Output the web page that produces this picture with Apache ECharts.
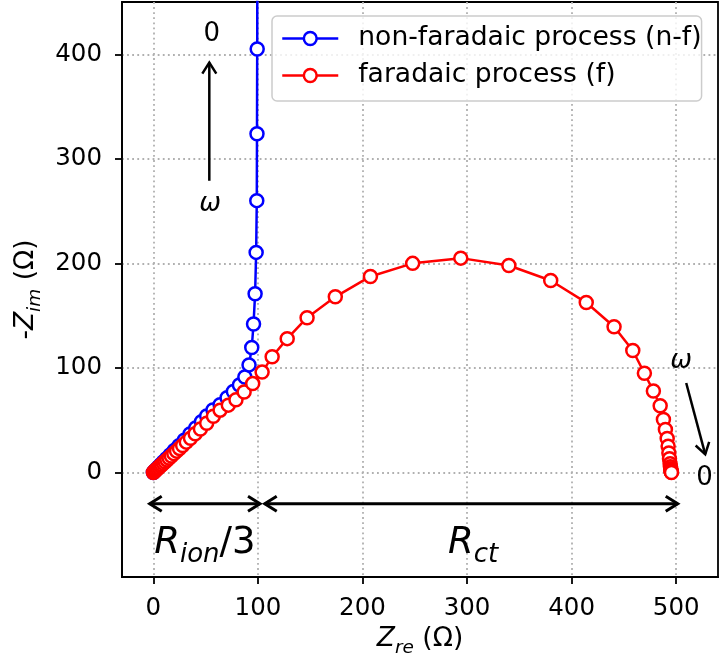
<!DOCTYPE html>
<html><head><meta charset="utf-8">
<script src="https://cdn.jsdelivr.net/npm/echarts@6/dist/echarts.min.js"></script>
<style>html,body{margin:0;padding:0;background:#fff}#c{width:720px;height:666px}</style>
</head><body><div id="c"></div>
<script>
// ---- tick values ----
const xTicks = [0, 100, 200, 300, 400, 500];
const yTicks = [0, 100, 200, 300, 400];

// ---- non-faradaic process (n-f) ----
const nfX = [0, 1.5, 3, 4.8, 7, 9.5, 12.5, 16, 20, 24.5, 29.5, 35, 40.5, 46, 51, 57, 63.8, 70.5, 76.5, 82.3, 87.5, 91.5, 94.1, 95.8, 97.3, 98.3, 98.9, 99.1, 99.3, 99.5];
const nfY = [0, 1.6, 3.2, 5.1, 7.4, 10, 13.1, 16.7, 20.9, 25.6, 30.9, 36.7, 42.6, 48.5, 54, 59.8, 64.8, 71.5, 77.5, 83.7, 91.3, 102.9, 119.5, 142, 171, 210.5, 260, 324, 405, 510];

// ---- faradaic process (f) ----
const fX = [0, 1, 2, 3, 4.1, 5.3, 6.6, 8, 9.5, 11.2, 13, 15, 17.2, 19.6, 22.2, 25, 28, 31.5, 35.5, 40, 45, 51, 57.4, 63.8, 71.7, 79, 86.8, 95, 104, 113.6, 128, 147, 174, 207.6, 248, 294, 340, 380, 414, 440.6, 458.5, 469.6, 478.2, 484.7, 487.8, 489.7, 491.4, 492.3, 493, 493.6, 494.2, 494.5, 494.8, 495, 495.2, 495.3, 495.4, 495.5];
const fY = [0, 0.9, 1.8, 2.8, 3.8, 4.9, 6.1, 7.4, 8.7, 10.3, 12, 13.8, 15.8, 18, 20.4, 23, 25.8, 29, 32.7, 37, 41.5, 47, 53.8, 59.6, 64.4, 69.5, 77, 85, 96, 110.6, 128, 148, 168, 187.5, 200, 205, 198, 183.6, 162.5, 139.4, 116.6, 94.9, 77.9, 63.8, 50.7, 41.1, 32.4, 25, 18.6, 13.2, 8.4, 5.5, 3.5, 2.2, 1.3, 0.7, 0.3, 0];

// ---- annotation arrows: x1, y1, x2 (tip), y2 (tip), double-headed flag ----
const arrowX1 = [53.5, 509.6, -3.5, 106.5];
const arrowY1 = [279, 85.6, -30, -30];
const arrowX2 = [53.5, 527.8, 102, 501.5];
const arrowY2 = [392, 17.3, -30, -30];
const arrowBoth = [0, 0, 1, 1];

// ---- annotation texts ----
const annTexts = ['0', '{w|ω}', '{w|ω}', '0', '{R|R}{s|ion}{n|/3}', '{R|R}{s|ct}'];
const annX = [55.8, 54.2, 504.8, 527, 49.3, 305.8];
const annY = [419, 257, 106, -6, -67.5, -67.5];

const FONT = 'DejaVu Sans';
const chart = echarts.init(document.getElementById('c'), null, {renderer: 'canvas'});

const annRich = {
  w: {fontFamily: FONT, fontStyle: 'italic', fontSize: 26, fill: '#000'},
  R: {fontFamily: FONT, fontStyle: 'italic', fontSize: 37, lineHeight: 50, fill: '#000'},
  s: {fontFamily: FONT, fontStyle: 'italic', fontSize: 26, lineHeight: 30, verticalAlign: 'bottom', fill: '#000'},
  n: {fontFamily: FONT, fontSize: 37, lineHeight: 50, fill: '#000'}
};

function headPts(tip, from, hl, hw) {
  const dx = tip[0] - from[0], dy = tip[1] - from[1];
  const L = Math.hypot(dx, dy) || 1;
  const ux = dx / L, uy = dy / L;
  const bx = tip[0] - ux * hl, by = tip[1] - uy * hl;
  return [[bx - uy * hw, by + ux * hw], [tip[0], tip[1]], [bx + uy * hw, by - ux * hw]];
}

const nameRich = {
  n: {fontFamily: FONT, fontSize: 26.5, lineHeight: 36, color: '#000'},
  z: {fontFamily: FONT, fontStyle: 'italic', fontSize: 26.5, lineHeight: 36, color: '#000'},
  s: {fontFamily: FONT, fontStyle: 'italic', fontSize: 18.5, lineHeight: 22, verticalAlign: 'bottom', color: '#000'}
};

const option = {
  animation: false,
  backgroundColor: '#fff',
  grid: {left: 122, right: 2, top: 2, bottom: 89, show: true, borderColor: '#000', borderWidth: 1.8, backgroundColor: 'transparent'},
  legend: {
    orient: 'vertical', left: 272, top: 16,
    padding: [9, 0, 12, 9],
    itemWidth: 56, itemHeight: 16, itemGap: 10,
    backgroundColor: 'rgba(255,255,255,0.8)', borderColor: '#cccccc', borderWidth: 1.5, borderRadius: 5,
    lineStyle: {width: 2.5},
    itemStyle: {borderWidth: 2.5},
    textStyle: {fontFamily: FONT, fontSize: 26.6, color: '#000', padding: [0, 0, 0, 15], lineHeight: 25},
    data: ['non-faradaic process (n-f)', 'faradaic process (f)']
  },
  xAxis: {
    type: 'value', min: -30, max: 540,
    axisLine: {show: true, onZero: false, lineStyle: {color: '#000', width: 1.8}},
    axisTick: {show: true, length: 7, inside: false, lineStyle: {color: '#000', width: 1.8}, customValues: xTicks},
    axisLabel: {customValues: xTicks, fontSize: 24.5, fontFamily: FONT, color: '#000', margin: 19},
    splitLine: {show: true, lineStyle: {color: '#b0b0b0', width: 1.8, type: [1.8, 3.3]}},
    name: '{z|Z}{s|re}{n| (Ω)}', nameLocation: 'middle', nameGap: 41,
    nameTextStyle: {rich: nameRich}
  },
  yAxis: {
    type: 'value', min: -100, max: 450,
    axisLine: {show: true, onZero: false, lineStyle: {color: '#000', width: 1.8}},
    axisTick: {show: true, length: 7, inside: false, lineStyle: {color: '#000', width: 1.8}, customValues: yTicks},
    axisLabel: {customValues: yTicks, fontSize: 24.5, fontFamily: FONT, color: '#000', margin: 20},
    splitLine: {show: true, lineStyle: {color: '#b0b0b0', width: 1.8, type: [1.8, 3.3]}},
    name: '{n|-}{z|Z}{s|im}{n| (Ω)}', nameLocation: 'middle', nameGap: 74,
    nameTextStyle: {rich: nameRich}
  },
  series: [
    {
      name: 'non-faradaic process (n-f)', type: 'line', clip: true,
      data: nfX.map((x, i) => [x, nfY[i]]),
      symbol: 'circle', symbolSize: 13, showAllSymbol: true,
      color: '#0000ff',
      lineStyle: {color: '#0000ff', width: 2.5},
      itemStyle: {color: '#ffffff', borderColor: '#0000ff', borderWidth: 2.5},
      emphasis: {disabled: true}, z: 2
    },
    {
      name: 'faradaic process (f)', type: 'line', clip: true,
      data: fX.map((x, i) => [x, fY[i]]),
      symbol: 'circle', symbolSize: 13, showAllSymbol: true,
      color: '#ff0000',
      lineStyle: {color: '#ff0000', width: 2.5},
      itemStyle: {color: '#ffffff', borderColor: '#ff0000', borderWidth: 2.5},
      emphasis: {disabled: true}, z: 3
    },
    {
      type: 'custom', silent: true, clip: false, z: 5,
      data: arrowX1.map((x, i) => [x, arrowY1[i], arrowX2[i], arrowY2[i], arrowBoth[i]]),
      renderItem: function (params, api) {
        const p1 = api.coord([api.value(0), api.value(1)]);
        const p2 = api.coord([api.value(2), api.value(3)]);
        const both = api.value(4) === 1;
        const lw = both ? 3 : 2.5;
        const hl = both ? 12 : 11, hw = both ? 7.5 : 7;
        const children = [{type: 'line', shape: {x1: p1[0], y1: p1[1], x2: p2[0], y2: p2[1]}, style: {stroke: '#000', lineWidth: lw}}];
        children.push({type: 'polyline', shape: {points: headPts(p2, p1, hl, hw)}, style: {stroke: '#000', lineWidth: lw, fill: null}});
        if (both) children.push({type: 'polyline', shape: {points: headPts(p1, p2, hl, hw)}, style: {stroke: '#000', lineWidth: lw, fill: null}});
        return {type: 'group', children: children};
      }
    },
    {
      type: 'custom', silent: true, clip: false, z: 5,
      data: annX.map((x, i) => [x, annY[i], i]),
      renderItem: function (params, api) {
        const i = api.value(2);
        const p = api.coord([api.value(0), api.value(1)]);
        return {type: 'text', x: p[0], y: p[1], style: {text: annTexts[i], rich: annRich, fontFamily: FONT, fontSize: 26, fill: '#000', align: 'center', verticalAlign: 'middle'}};
      }
    }
  ]
};
chart.setOption(option);
</script>
</body></html>
